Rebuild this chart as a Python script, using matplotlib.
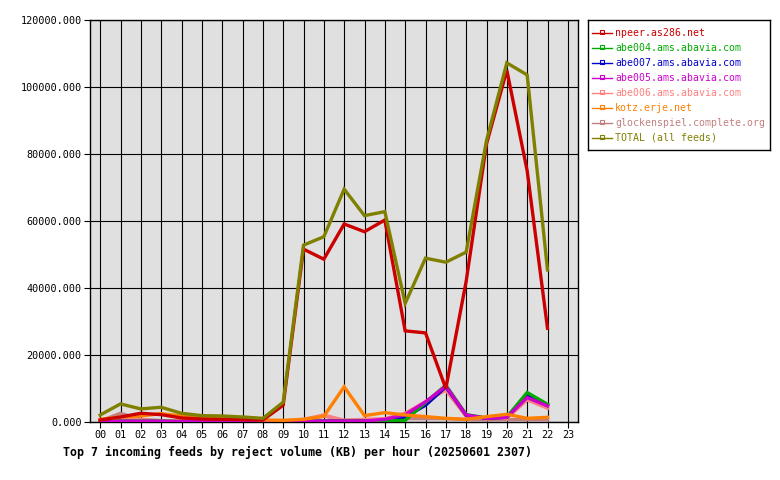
import matplotlib
matplotlib.use("Agg")
import matplotlib.pyplot as plt
from matplotlib.ticker import FuncFormatter

hours = list(range(24))
hour_labels = ["%02d" % h for h in hours]

npeer = [600, 1500, 2600, 2200, 1200, 900, 800, 700, 600, 5000, 51600, 48600, 59100, 56800, 60300,
         27200, 26600, 10000, 42000, 83000, 105000, 75000, 28000]
abe004 = [100, 200, 200, 200, 100, 100, 100, 100, 100, 100, 200, 300, 300, 300, 300,
          500, 5800, 11000, 2200, 1200, 1500, 8800, 5300]
abe007 = [100, 200, 200, 200, 100, 100, 100, 100, 100, 100, 200, 300, 300, 300, 300,
          1500, 5000, 10500, 2000, 1100, 1400, 7800, 5000]
abe005 = [100, 200, 200, 200, 100, 100, 100, 100, 100, 100, 200, 300, 300, 300, 800,
          2200, 6000, 10700, 2100, 1100, 1400, 7300, 4800]
abe006 = [200, 1100, 600, 400, 300, 300, 300, 300, 300, 300, 800, 2100, 500, 800, 1000,
          2600, 6100, 9500, 1600, 1100, 1100, 6600, 4100]
kotz = [800, 1500, 1800, 2500, 1800, 1300, 1100, 900, 600, 500, 800, 1700, 10500, 1900, 2800,
        2100, 1600, 1100, 800, 1600, 2300, 1100, 1400]
glock = [300, 2600, 800, 400, 300, 300, 300, 300, 300, 300, 600, 1800, 500, 600, 700,
         1000, 1000, 1000, 700, 600, 700, 700, 600]
total = [2100, 5400, 3900, 4400, 2600, 1900, 1800, 1500, 1100, 5900, 52800, 55300, 69500, 61600,
         62800, 35400, 48900, 47700, 50700, 84000, 107200, 103600, 45400]

series = [
    ("npeer.as286.net", npeer, "#cc0000"),
    ("abe004.ams.abavia.com", abe004, "#00aa00"),
    ("abe007.ams.abavia.com", abe007, "#0000cc"),
    ("abe005.ams.abavia.com", abe005, "#cc00cc"),
    ("abe006.ams.abavia.com", abe006, "#ff8080"),
    ("kotz.erje.net", kotz, "#ff8000"),
    ("glockenspiel.complete.org", glock, "#c08080"),
    ("TOTAL (all feeds)", total, "#808000"),
]
zorders = [9, 6, 5, 7, 4, 8, 3, 10]

plt.rcParams['font.family'] = ['DejaVu Sans Mono']
fig = plt.figure(figsize=(7.8, 4.8), dpi=100)
ax = fig.add_axes([90/780, 1-422/480, 488/780, 402/480])
ax.set_facecolor("#e0e0e0")

handles = []
for (name, vals, col), z in zip(series, zorders):
    x = hours[:len(vals)]
    ax.plot(x, vals, color=col, lw=2.4, zorder=z, solid_joinstyle='miter')
    handles.append((name, col))

ax.set_xlim(-0.5, 23.5)
ax.set_ylim(0, 120000)
ax.set_xticks(hours)
ax.set_xticklabels(hour_labels)
ax.set_yticks(range(0, 120001, 20000))
ax.yaxis.set_major_formatter(FuncFormatter(lambda v, p: "%.3f" % v))
ax.grid(True, color="black", lw=0.8, zorder=1)
ax.set_axisbelow(True)
ax.tick_params(axis='both', labelsize=7.3, length=4, width=0.8, color="black", direction='out', pad=2)
for sp in ax.spines.values():
    sp.set_color("black")
    sp.set_linewidth(1.0)

fig.text(63/780, 1-452/480, "Top 7 incoming feeds by reject volume (KB) per hour (20250601 2307)",
         fontsize=8.4, fontweight='bold', va='center', ha='left')

# legend box
lax = fig.add_axes([588/780, 1-150/480, 182/780, 130/480])
lax.set_xlim(0, 182)
lax.set_ylim(130, 0)
lax.set_xticks([])
lax.set_yticks([])
for sp in lax.spines.values():
    sp.set_color("black")
    sp.set_linewidth(1.0)
for i, (name, col) in enumerate(handles):
    y = 13 + i * 15
    lax.plot([4, 24], [y, y], color=col, lw=1.0)
    lax.plot([14], [y - 1], marker='s', ms=3, mfc='none', mec=col, mew=0.8)
    lax.text(27, y, name, color=col, fontsize=7.1, va='center', ha='left')

fig.savefig("out.png", dpi=100, facecolor="white")
